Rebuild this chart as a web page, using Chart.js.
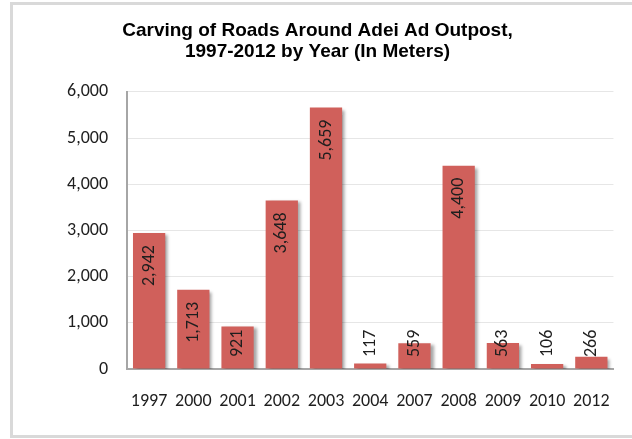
<!DOCTYPE html>
<html>
<head>
<meta charset="utf-8">
<script src="https://cdn.jsdelivr.net/npm/chart.js@4"></script>
<style>
  body { margin: 0; background: #fff; }
  #wrap { position: relative; width: 632px; height: 439px; overflow: hidden; }
  #frame {
    position: absolute; left: 10px; top: 2px; width: 640px; height: 436px;
    box-sizing: border-box; border: 3px solid #d9d9d9;
  }
  #roads { position: absolute; left: 0; top: 0; }
</style>
</head>
<body>
<div id="wrap">
  <div id="frame"></div>
  <canvas id="roads" width="632" height="439"></canvas>
</div>
<script>
// Road length carved each year (meters)
const years  = ["1997","2000","2001","2002","2003","2004","2007","2008","2009","2010","2012"];
const meters = [2942, 1713, 921, 3648, 5659, 117, 559, 4400, 563, 106, 266];
const yTicks = [0, 1000, 2000, 3000, 4000, 5000, 6000];

const BAR = '#d0605b';
const TXT = '#1e1e1e';
const FAMILY = 'Carlito, Lato, sans-serif';
const fmt = v => Number(v).toLocaleString('en-US');

// soft drop shadow under the bars
const barShadow = {
  id: 'barShadow',
  beforeDatasetsDraw(chart) {
    const c = chart.ctx;
    c.save();
    c.shadowColor = 'rgba(0,0,0,0.35)';
    c.shadowOffsetX = 3;
    c.shadowOffsetY = 2;
    c.shadowBlur = 3;
  },
  afterDatasetsDraw(chart) { chart.ctx.restore(); }
};

// vertical value labels, just below the top of each bar
const valueLabels = {
  id: 'valueLabels',
  afterDraw(chart) {
    const c = chart.ctx;
    const meta = chart.getDatasetMeta(0);
    const base = chart.scales.y.getPixelForValue(0);
    c.save();
    c.font = '18px ' + FAMILY;
    c.fillStyle = TXT;
    c.textAlign = 'center';
    c.textBaseline = 'middle';
    meta.data.forEach((bar, i) => {
      const txt = fmt(meters[i]);
      const w = c.measureText(txt).width;
      const top = Math.min(bar.y + 12, base - 12 - w);
      c.save();
      c.translate(bar.x, top + w / 2);
      c.rotate(-Math.PI / 2);
      c.fillText(txt, 0, 0);
      c.restore();
    });
    c.restore();
  }
};

new Chart(document.getElementById('roads'), {
  type: 'bar',
  data: {
    labels: years,
    datasets: [{
      data: meters,
      backgroundColor: BAR,
      borderWidth: 0,
      categoryPercentage: 1,
      barPercentage: 0.73
    }]
  },
  options: {
    responsive: false,
    animation: false,
    devicePixelRatio: 1,
    layout: { padding: { left: 12, right: 9, top: 0, bottom: 20 } },
    plugins: {
      legend: { display: false },
      tooltip: { enabled: false },
      title: {
        display: true,
        text: ['Carving of Roads Around Adei Ad Outpost,', '1997-2012 by Year (In Meters)'],
        color: '#000',
        font: { family: 'Arial, "Liberation Sans", sans-serif', size: 19, weight: 'bold', lineHeight: 1.1 },
        padding: { top: 20, bottom: 30 }
      }
    },
    scales: {
      x: {
        grid: { display: false, drawTicks: false },
        border: { display: true, color: '#a6a6a6', width: 2 },
        ticks: { color: TXT, font: { family: FAMILY, size: 18 }, padding: 22, maxRotation: 0, autoSkip: false },
        afterFit(s) { s.height = 50; }
      },
      y: {
        min: 0, max: 6000,
        afterBuildTicks(s) { s.ticks = yTicks.map(v => ({ value: v })); },
        grid: { color: '#e6e6e6', drawTicks: false },
        border: { display: true, color: '#a6a6a6', width: 2 },
        ticks: { color: TXT, font: { family: FAMILY, size: 18 }, padding: 19, callback: v => fmt(v) },
        afterFit(s) { s.width = 115; }
      }
    }
  },
  plugins: [barShadow, valueLabels]
});
</script>
</body>
</html>
